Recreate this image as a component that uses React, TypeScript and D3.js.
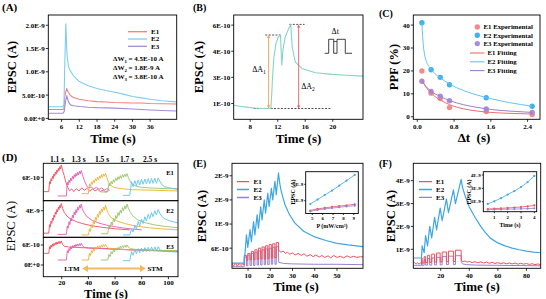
import { useEffect, useRef } from 'react'
import * as d3 from 'd3'

type Pt = [number, number]

const SERIF = '"Liberation Serif", "Times New Roman", serif'

// ---------------- (A) single pulse, EPSC in 1e-10 A ----------------
const aNames = ['E1', 'E2', 'E3']
const aColors = ['#f57f7f', '#7dcdf2', '#a58bd8']
const aE1: Pt[] = [[1.5, 1.9], [6.4, 1.9], [6.8, 2.1], [7.1, 4.8], [7.7, 6.4], [8.2, 5.7], [9, 4.9], [10, 4.5], [12, 4.1], [15, 3.8], [18, 3.6], [21, 3.5], [24, 3.4], [27, 3.35], [30, 3.3], [33, 3.3], [36, 3.2], [40, 3.15], [45, 3.1]]
const aE2: Pt[] = [[1.5, 2.5], [6.4, 2.5], [6.8, 2.9], [7.1, 12], [7.45, 20.3], [7.8, 14], [8.3, 11.2], [9, 10.2], [10, 9.2], [12, 7.9], [15, 7.0], [18, 6.4], [21, 6.0], [24, 5.6], [27, 5.2], [30, 4.7], [33, 4.4], [36, 4.1], [40, 3.8], [45, 3.55]]
const aE3: Pt[] = [[1.5, 1.1], [6.5, 1.1], [6.9, 1.5], [7.3, 3.5], [7.8, 4.9], [8.3, 3.6], [9, 2.9], [10, 2.7], [12, 2.55], [15, 2.4], [18, 2.3], [24, 2.2], [30, 2.0], [36, 1.8], [40, 1.7], [45, 1.57]]
const aXTicks = [6, 12, 18, 24, 30, 36]
const aYTicks = [0, 5, 10, 15, 20]
const aYLabels = ['0.0E+0', '5.0E-10', '1.0E-9', '1.5E-9', '2.0E-9']
const aDeltaW = [['1', '4.5E-10'], ['2', '1.8E-9'], ['3', '3.8E-10']]

// ---------------- (B) paired pulse, EPSC in 1e-10 A ----------------
const bCurve: Pt[] = [[5.6, 1.4], [6.5, 1.34], [7.5, 1.29], [8.5, 1.24], [9.7, 1.21], [11.0, 1.21], [11.15, 2.2], [11.25, 3.03], [11.45, 4.18], [11.75, 4.95], [12.1, 5.33], [12.4, 5.43], [12.5, 4.5], [12.6, 3.7], [12.75, 4.56], [13.1, 5.33], [13.6, 5.81], [13.9, 6.04], [14.1, 4.75], [14.55, 3.89], [15.5, 3.51], [17.5, 3.26], [19.9, 3.17], [22, 3.12], [24.5, 3.07]]
const bXTicks = [8, 12, 16, 20]
const bYTicks = [1.5, 3, 4.5, 6]
const bYLabels = ['1E-10', '3E-10', '4E-10', '6E-10']
const bLevels = [1.21, 5.43, 6.04] // base, peak 1, peak 2

// ---------------- (C) PPF ----------------
const cNames = ['E1', 'E2', 'E3']
const cDt = [0.1, 0.3, 0.5, 0.7, 1.5, 2.5]
const cE1 = [20, 10.3, 8, 4, 2.3, 1]
const cE2 = [41, 20.5, 17.2, 14, 8.3, 4.6]
const cE3 = [15.5, 11, 9, 7, 3.4, 1.9]
const cFitE1: Pt[] = [[0.1, 16.5], [0.15, 14.2], [0.2, 12.6], [0.3, 10.3], [0.4, 8.6], [0.5, 7.3], [0.7, 5.3], [1.0, 3.5], [1.3, 2.5], [1.6, 1.9], [2.0, 1.5], [2.5, 1.2]]
const cFitE2: Pt[] = [[0.1, 41], [0.11, 37], [0.13, 31.5], [0.16, 27], [0.2, 24], [0.25, 22], [0.3, 20.5], [0.4, 18.5], [0.5, 17], [0.7, 14.3], [1.0, 11.5], [1.3, 9.5], [1.6, 7.9], [2.0, 6.2], [2.5, 4.6]]
const cFitE3: Pt[] = [[0.1, 15.6], [0.2, 13], [0.3, 11.1], [0.4, 9.9], [0.5, 8.9], [0.7, 7.1], [1.0, 5.3], [1.3, 4.1], [1.6, 3.2], [2.0, 2.5], [2.5, 1.9]]
const cMarkColors = ['#f28b8b', '#3fb2ee', '#a98ed8']
const cFitColors = ['#f36d6d', '#63c4f0', '#9d7dd2']
const cXTicks = [0, 0.8, 1.6, 2.4]
const cXLabels = ['0.0', '0.8', '1.6', '2.4']
const cYTicks = [0, 10, 20, 30, 40]

// ---------------- (D) pulse trains at 5 intervals ----------------
const dIntervals = [1.1, 1.3, 1.5, 1.7, 2.5]
const dLabels = ['1.1 s', '1.3 s', '1.5 s', '1.7 s', '2.5 s']
const dStarts = [10.3, 23.5, 40, 54.5, 71]
const dPreStart = [6.2, 17, 35, 49.5, 66]
const dColors = ['#ef4d5d', '#e35bb3', '#efb02e', '#95c46a', '#5ec3f2']
// E1, 1e-10 A
const dE1Base = [1.7, 0.4, 1.1, 1.6, 0.6]
const dE1Peaks = [
  [4.7, 5.6, 6.3, 7.0, 7.6, 8.2, 8.7, 9.2, 9.7],
  [4.5, 5.2, 5.8, 6.3, 6.8, 7.2, 7.5, 7.8, 8.0],
  [4.0, 4.6, 5.1, 5.6, 6.0, 6.4, 6.8, 7.0, 7.2],
  [4.2, 4.8, 5.3, 5.8, 6.2, 6.5, 6.8, 7.0, 7.1],
  [4.7, 5.0, 5.2, 5.4, 5.5, 5.6, 5.7, 5.7, 5.8],
]
const dE1Troughs = [
  [4.0, 4.9, 5.6, 6.3, 6.9, 7.5, 8.0, 8.5],
  [3.7, 4.4, 5.0, 5.5, 6.0, 6.4, 6.7, 7.0],
  [3.3, 3.9, 4.4, 4.9, 5.3, 5.7, 6.0, 6.3],
  [3.4, 4.0, 4.5, 5.0, 5.4, 5.7, 6.0, 6.2],
  [3.2, 3.5, 3.7, 3.9, 4.0, 4.1, 4.2, 4.2],
]
const dE1Tails: Pt[][] = [
  [[20.6, 8.2], [21.8, 6.6], [23, 4.6], [24.5, 3.0], [26, 2.0], [27.5, 2.5], [29, 1.7], [31, 2.6], [33, 1.9], [35, 2.8], [37, 2.1], [39, 2.7], [41, 1.8], [43, 2.5], [45, 1.9], [47, 2.4], [49, 1.7], [51, 2.2], [53, 1.6], [55, 2.0]],
  [[35.5, 6.8], [37, 5.0], [38.5, 3.6], [40, 2.8], [42, 3.1], [44, 2.5], [46, 3.0], [48, 2.4], [50, 2.8], [52, 2.2], [54, 2.6], [56, 2.1]],
  [[53.8, 6.0], [55, 4.6], [57, 3.5], [59, 3.0], [63, 2.7], [67, 2.5], [73, 2.3], [80, 2.2], [90, 2.1], [100, 2.0], [107, 1.9]],
  [[70, 5.9], [71.5, 4.6], [73.5, 3.8], [76, 3.3], [80, 3.0], [86, 2.8], [92, 2.7], [100, 2.6], [107, 2.5]],
  [[93.5, 4.8], [95, 3.8], [97, 3.2], [100, 2.9], [104, 2.6], [107, 2.5]],
]
// E2, 1e-9 A
const dE2Base = [0.3, 0.1, 0.0, 0.2, 0.0]
const dE2Peaks = [
  [1.7, 2.3, 2.8, 3.3, 3.8, 4.2, 4.6, 4.9, 5.2],
  [1.5, 2.2, 2.8, 3.3, 3.8, 4.2, 4.6, 4.9, 5.1],
  [1.0, 1.7, 2.3, 2.9, 3.4, 3.9, 4.3, 4.6, 4.9],
  [1.5, 2.1, 2.7, 3.2, 3.7, 4.1, 4.5, 4.8, 5.1],
  [1.0, 1.6, 2.2, 2.6, 3.0, 3.4, 3.7, 4.0, 4.2],
]
const dE2Troughs = [
  [1.3, 1.9, 2.4, 2.9, 3.4, 3.8, 4.2, 4.5],
  [1.1, 1.7, 2.3, 2.8, 3.3, 3.7, 4.1, 4.4],
  [0.6, 1.2, 1.8, 2.4, 2.9, 3.4, 3.8, 4.1],
  [1.0, 1.6, 2.2, 2.7, 3.2, 3.6, 4.0, 4.3],
  [0.5, 1.0, 1.5, 1.9, 2.3, 2.7, 3.0, 3.3],
]
const dE2Tails: Pt[][] = [
  [[20.6, 4.4], [22, 3.7], [24, 3.1], [27, 2.6], [31, 2.2], [36, 1.85], [43, 1.5], [51, 1.25], [61, 1.0], [71, 0.85]],
  [[35.5, 4.3], [37, 3.6], [39, 3.0], [43, 2.4], [48, 1.95], [55, 1.55], [63, 1.25], [72, 1.0], [80, 0.85]],
  [[53.8, 4.2], [55, 3.5], [57, 2.9], [61, 2.35], [67, 1.9], [75, 1.5], [85, 1.2], [96, 1.0], [107, 0.85]],
  [[70, 4.4], [71.5, 3.7], [73.5, 3.1], [77, 2.5], [83, 2.0], [90, 1.65], [98, 1.4], [107, 1.2]],
  [[93.5, 3.6], [95, 3.1], [97, 2.7], [100, 2.4], [104, 2.15], [107, 2.0]],
]
// E3, 1e-10 A
const dE3Base = [3.5, 1.5, 1.5, 1.5, 1.3]
const dE3Peaks = [
  [5.5, 6.0, 6.3, 6.5, 6.7, 6.9, 7.0, 7.1, 7.2],
  [4.3, 5.0, 5.5, 5.8, 6.0, 6.2, 6.3, 6.4, 6.5],
  [3.5, 4.3, 4.9, 5.3, 5.6, 5.8, 6.0, 6.1, 6.2],
  [3.2, 4.0, 4.6, 5.0, 5.3, 5.6, 5.8, 5.9, 6.0],
  [4.0, 4.6, 4.9, 5.1, 5.2, 5.3, 5.4, 5.4, 5.5],
]
const dE3Troughs = [
  [4.8, 5.3, 5.6, 5.9, 6.1, 6.3, 6.4, 6.5],
  [3.6, 4.3, 4.8, 5.1, 5.4, 5.6, 5.7, 5.8],
  [2.8, 3.6, 4.2, 4.7, 5.0, 5.2, 5.4, 5.5],
  [2.5, 3.3, 3.9, 4.4, 4.7, 5.0, 5.2, 5.3],
  [2.9, 3.4, 3.7, 3.9, 4.0, 4.1, 4.2, 4.2],
]
const dE3Tails: Pt[][] = [
  [[20.6, 6.2], [22, 5.6], [25, 5.4], [30, 5.3], [40, 5.1], [50, 5.0], [60, 4.8], [70, 4.6], [80, 4.5], [90, 4.3], [100, 4.2], [107, 4.1]],
  [[35.5, 5.8], [37, 5.3], [40, 5.1], [50, 4.9], [60, 4.7], [80, 4.4], [107, 4.1]],
  [[53.8, 5.5], [55, 5.0], [59, 4.8], [70, 4.6], [85, 4.4], [107, 4.2]],
  [[70, 5.3], [71.5, 4.9], [75, 4.7], [85, 4.5], [107, 4.2]],
  [[93.5, 4.6], [95, 4.2], [100, 4.0], [107, 3.9]],
]
const dXTicks = [20, 40, 60, 80, 100]

// ---------------- (E) train, EPSC in 1e-9 A ----------------
const efNames = ['E1', 'E2', 'E3']
const efColors = ['#ef525c', '#3ea6e4', '#9b80d2']
const eStarts = [8.3, 9.9, 11.5, 13.1, 14.7, 16.3, 17.9, 19.5, 21.1, 22.7]
const eOn = 1.0
const eE2Pre: Pt[] = [[2.8, 0.23], [8.3, 0.23]]
const eE2Peaks = [0.93, 1.06, 1.26, 1.43, 1.63, 1.8, 1.97, 2.09, 2.26, 2.47]
const eE2Troughs = [0.62, 0.76, 0.93, 1.1, 1.3, 1.47, 1.63, 1.8, 1.93]
const eE2Tail: Pt[] = [[24.3, 2.2], [25, 2.0], [26.5, 1.7], [28.5, 1.45], [31, 1.23], [35, 1.02], [40, 0.88], [45, 0.79], [50, 0.72], [55, 0.68], [61.7, 0.64]]
const eE1Pre: Pt[] = [[2.8, 0.2], [3.6, 0.16], [4.4, 0.23], [5.2, 0.15], [6, 0.22], [6.8, 0.17], [7.6, 0.21], [8.3, 0.18]]
const eE1Tops = [0.42, 0.47, 0.52, 0.56, 0.6, 0.63, 0.66, 0.69, 0.71, 0.74]
const eE1Bottoms = [0.3, 0.31, 0.31, 0.32, 0.33, 0.33, 0.34, 0.35, 0.36]
const eE1Tail: Pt[] = [[23.8, 0.55], [24.8, 0.5], [25.8, 0.53], [26.8, 0.47], [27.8, 0.5], [28.8, 0.45], [30, 0.48], [31.2, 0.43], [32.5, 0.47], [34, 0.42], [35.2, 0.46], [36.5, 0.4], [38, 0.44], [39.2, 0.39], [40.5, 0.43], [42, 0.38], [43.2, 0.42], [44.5, 0.37], [46, 0.41], [47.2, 0.36], [48.5, 0.42], [50, 0.37], [51.5, 0.4], [53, 0.36], [54.5, 0.41], [56, 0.37], [57.5, 0.4], [59, 0.37], [60.5, 0.39], [61.7, 0.38]]
const eE3Pre: Pt[] = [[2.8, 0.14], [8.3, 0.14]]
const eE3Tops = [0.38, 0.43, 0.47, 0.5, 0.53, 0.56, 0.58, 0.6, 0.62, 0.64]
const eE3Bottoms = [0.16, 0.17, 0.17, 0.18, 0.18, 0.19, 0.19, 0.2, 0.2]
const eE3Tail: Pt[] = [[23.8, 0.25], [26, 0.22], [30, 0.21], [40, 0.2], [50, 0.2], [61.7, 0.19]]
const eXTicks = [10, 20, 30, 40, 50]
const eYTicks = [0.6, 1.2, 1.8, 2.4]
const eYLabels = ['6E-10', '1E-9', '2E-9', '2E-9']
// inset: EPSC vs light power density
const eInP = [4.8, 5.5, 6.2, 6.9, 7.6, 8.3, 9.1]
const eInE1 = [0.4, 0.5, 0.56, 0.62, 0.67, 0.72, 0.78]
const eInE2 = [0.8, 1.07, 1.35, 1.62, 1.92, 2.22, 2.58]
const eInE3 = [0.35, 0.44, 0.5, 0.55, 0.6, 0.65, 0.7]
const eInXTicks = [5, 6, 7, 8, 9]
const eInYTicks = [1, 2]
const eInYLabels = ['1E-9', '2E-9']

// ---------------- (F) duration train, EPSC in 1e-9 A ----------------
const fStarts = [6.5, 8.4, 10.8, 13.7, 17.1, 21.0, 25.4, 30.3]
const fDurations = [0.5, 1, 1.5, 2, 2.5, 3, 3.5, 4]
const fE2Pre: Pt[] = [[0.8, 0.62], [6.5, 0.62]]
const fE2Peaks = [1.15, 1.6, 2.0, 2.4, 2.8, 3.2, 3.6, 4.06]
const fE2Troughs = [0.85, 1.15, 1.5, 1.85, 2.25, 2.6, 3.0]
const fE2Tail: Pt[] = [[35.3, 3.7], [37, 3.35], [40, 2.85], [44, 2.4], [48, 2.0], [51, 1.75], [54.5, 1.5], [60, 1.28], [65, 1.15], [70, 1.05], [75, 0.98], [80, 0.92], [85, 0.88], [90, 0.85]]
const fE1Pre: Pt[] = [[0.8, 0.38], [1.8, 0.42], [2.8, 0.36], [3.8, 0.41], [4.8, 0.35], [5.8, 0.4], [6.5, 0.38]]
const fE1Tops = [0.62, 0.68, 0.74, 0.79, 0.84, 0.88, 0.92, 0.96]
const fE1Bottoms = [0.4, 0.42, 0.43, 0.44, 0.45, 0.46, 0.47]
const fE1Tail: Pt[] = [[34.4, 0.52], [35.5, 0.46], [37, 0.49], [38.5, 0.44], [40, 0.47], [42, 0.42], [44, 0.46], [46, 0.41], [48, 0.45], [50, 0.4], [52, 0.44], [54, 0.39], [56, 0.43], [58, 0.38], [60, 0.42], [62, 0.37], [64, 0.41], [66, 0.37], [68, 0.4], [70, 0.36], [72, 0.4], [74, 0.35], [76, 0.39], [78, 0.35], [80, 0.38], [82, 0.34], [84, 0.37], [86, 0.33], [88, 0.36], [90, 0.33]]
const fE3Pre: Pt[] = [[0.8, 0.3], [6.5, 0.3]]
const fE3Tops = [0.5, 0.55, 0.59, 0.62, 0.65, 0.68, 0.7, 0.72]
const fE3Bottoms = [0.3, 0.31, 0.31, 0.32, 0.32, 0.33, 0.33]
const fE3Tail: Pt[] = [[34.4, 0.42], [35.5, 0.36], [38, 0.33], [45, 0.31], [60, 0.3], [90, 0.28]]
const fXTicks = [20, 40, 60, 80]
const fYTicks = [1, 2, 3, 4]
const fYLabels = ['1E-9', '2E-9', '3E-9', '4E-9']
// inset: EPSC vs pulse duration
const fInT = [0.5, 1, 1.5, 2, 2.5, 3, 3.5, 4]
const fInE1 = [0.18, 0.22, 0.26, 0.3, 0.35, 0.41, 0.48, 0.58]
const fInE2 = [0.75, 1.05, 1.4, 1.8, 2.2, 2.65, 3.2, 3.9]
const fInE3 = [0.1, 0.12, 0.14, 0.16, 0.18, 0.2, 0.23, 0.26]
const fInXTicks = [1, 2, 3, 4]
const fInYTicks = [1, 2.5, 4]
const fInYLabels = ['1E-9', '3E-9', '4E-9']

type Box = { x: number; y: number; w: number; h: number }
let clipCount = 0

function clipped(svg: any, b: Box) {
  const id = 'clip' + clipCount++
  svg.append('clipPath').attr('id', id).append('rect').attr('x', b.x).attr('y', b.y).attr('width', b.w).attr('height', b.h)
  return svg.append('g').attr('clip-path', `url(#${id})`)
}

function frame(g: any, b: Box, fill = 'none') {
  g.append('rect').attr('x', b.x).attr('y', b.y).attr('width', b.w).attr('height', b.h)
    .attr('fill', fill).attr('stroke', '#000').attr('stroke-width', 0.9)
}

function xAxis(g: any, b: Box, xs: any, ticks: number[], labels: string[], fs = 7, tick = 2.5, gap = 9.3) {
  ticks.forEach((v, i) => {
    const x = xs(v)
    g.append('line').attr('x1', x).attr('x2', x).attr('y1', b.y + b.h).attr('y2', b.y + b.h + tick).attr('stroke', '#000').attr('stroke-width', 0.8)
    g.append('text').attr('x', x).attr('y', b.y + b.h + gap).attr('text-anchor', 'middle')
      .attr('font-size', fs).attr('font-weight', 'bold').text(labels[i])
  })
}

function yAxis(g: any, b: Box, ys: any, ticks: number[], labels: string[], fs = 7, tick = 2.5) {
  ticks.forEach((v, i) => {
    const y = ys(v)
    g.append('line').attr('x1', b.x - tick).attr('x2', b.x).attr('y1', y).attr('y2', y).attr('stroke', '#000').attr('stroke-width', 0.8)
    g.append('text').attr('x', b.x - tick - 1).attr('y', y).attr('dy', '0.35em').attr('text-anchor', 'end')
      .attr('font-size', fs).attr('font-weight', 'bold').text(labels[i])
  })
}

function text(g: any, x: number, y: number, s: string, fs: number, opts: any = {}) {
  const t = g.append('text').attr('x', x).attr('y', y).attr('font-size', fs)
    .attr('font-weight', opts.weight || 'bold').attr('text-anchor', opts.anchor || 'middle').text(s)
  if (opts.rotate) t.attr('transform', `rotate(-90 ${x} ${y})`)
  if (opts.dy) t.attr('dy', opts.dy)
  return t
}

function trace(g: any, pts: Pt[], xs: any, ys: any, color: string, w = 1, curve: any = d3.curveLinear) {
  const line = d3.line<Pt>().x(d => xs(d[0])).y(d => ys(d[1])).curve(curve)
  g.append('path').datum(pts).attr('d', line).attr('fill', 'none').attr('stroke', color)
    .attr('stroke-width', w).attr('stroke-linejoin', 'round')
}

// rising teeth: pulse i rises to peaks[i], then decays to troughs[i] before pulse i+1
function sawtooth(pre: Pt[], starts: number[], rises: number[], peaks: number[], troughs: number[], tail: Pt[]): Pt[] {
  const pts: Pt[] = [...pre]
  starts.forEach((s, i) => {
    pts.push([s + rises[i], peaks[i]])
    if (i < troughs.length) pts.push([starts[i + 1], troughs[i]])
  })
  return pts.concat(tail)
}

function square(pre: Pt[], starts: number[], ons: number[], tops: number[], bottoms: number[], tail: Pt[]): Pt[] {
  const pts: Pt[] = [...pre]
  starts.forEach((s, i) => {
    const prev = i === 0 ? pre[pre.length - 1][1] : bottoms[i - 1]
    pts.push([s, prev], [s, tops[i]], [s + ons[i], tops[i]])
    if (i < bottoms.length) pts.push([s + ons[i], bottoms[i]])
  })
  return pts.concat(tail)
}

function subLabel(g: any, x: number, y: number, main: string, sub: string, rest: string, fs: number, weight = 'bold', anchor = 'start') {
  const t = g.append('text').attr('x', x).attr('y', y).attr('font-size', fs).attr('font-weight', weight).attr('text-anchor', anchor)
  t.append('tspan').text(main)
  t.append('tspan').attr('font-size', fs * 0.7).attr('dy', fs * 0.25).text(sub)
  if (rest) t.append('tspan').attr('dy', -fs * 0.25).text(rest)
}

function legendLines(g: any, x0: number, x1: number, tx: number, ys: number[], names: string[], colors: string[], fs = 7, w = 1.3) {
  names.forEach((n, i) => {
    g.append('line').attr('x1', x0).attr('x2', x1).attr('y1', ys[i]).attr('y2', ys[i]).attr('stroke', colors[i]).attr('stroke-width', w)
    text(g, tx, ys[i], n, fs, { anchor: 'start', dy: '0.35em' })
  })
}

function arrowV(g: any, x: number, y0: number, y1: number, color: string) {
  g.append('line').attr('x1', x).attr('x2', x).attr('y1', y0 - 2.5).attr('y2', y1 + 2.5).attr('stroke', color).attr('stroke-width', 0.9)
  g.append('path').attr('d', `M${x - 1.6},${y0 - 3} L${x},${y0} L${x + 1.6},${y0 - 3} Z`).attr('fill', color)
  g.append('path').attr('d', `M${x - 1.6},${y1 + 3} L${x},${y1} L${x + 1.6},${y1 + 3} Z`).attr('fill', color)
}

export default function App() {
  const ref = useRef<SVGSVGElement>(null)

  useEffect(() => {
    const svg = d3.select(ref.current)
    svg.selectAll('*').remove()
    const root = svg.append('g')

    // ---------------- (A) ----------------
    const aBox = { x: 48.3, y: 15, w: 128.4, h: 104.3 }
    const ax = d3.scaleLinear().domain([1.5, 45]).range([aBox.x, aBox.x + aBox.w])
    const ay = d3.scaleLinear().domain([-0.2, 22.2]).range([aBox.y + aBox.h, aBox.y])
    const aG = clipped(root, aBox)
    ;[aE1, aE2, aE3].forEach((s, i) => trace(aG, s, ax, ay, aColors[i], 1.1))
    frame(root, aBox)
    xAxis(root, aBox, ax, aXTicks, aXTicks.map(String))
    yAxis(root, aBox, ay, aYTicks, aYLabels)
    legendLines(root, 128, 147, 151, [31.7, 39, 46.3], aNames, aColors)
    aDeltaW.forEach((d, i) => subLabel(root, 113, 61 + i * 9, 'ΔW', d[0], ` = ${d[1]} A`, 7))
    text(root, 113, 142.5, 'Time (s)', 13)
    text(root, 16, 67, 'EPSC (A)', 12.5, { rotate: true })
    text(root, 2, 11, '(A)', 11, { anchor: 'start' })

    // ---------------- (B) ----------------
    const bBox = { x: 233.7, y: 15, w: 129.3, h: 104.3 }
    const bx = d3.scaleLinear().domain([5.6, 24.4]).range([bBox.x, bBox.x + bBox.w])
    const by = d3.scaleLinear().domain([0.59, 6.58]).range([bBox.y + bBox.h, bBox.y])
    const bG = clipped(root, bBox)
    const dash = (t0: number, t1: number, v: number) =>
      bG.append('line').attr('x1', bx(t0)).attr('x2', bx(t1)).attr('y1', by(v)).attr('y2', by(v))
        .attr('stroke', '#222').attr('stroke-width', 0.8).attr('stroke-dasharray', '2,1.4')
    dash(8.5, 19.65, bLevels[0])
    dash(10.2, 12.4, bLevels[1])
    dash(13.7, 15.9, bLevels[2])
    trace(bG, bCurve, bx, by, '#86d4c6', 1.1)
    arrowV(bG, bx(10.67), by(bLevels[0]), by(bLevels[1]), '#f5a04a')
    arrowV(bG, bx(15.04), by(bLevels[0]), by(bLevels[2]), '#f25a6a')
    subLabel(root, 259, 72, 'ΔA', '1', '', 8, 'normal', 'middle')
    subLabel(root, 308, 89, 'ΔA', '2', '', 8, 'normal', 'middle')
    root.append('path').attr('d', 'M324.7,53.3 H328.7 V39.3 H333.7 V53.3 H337 V39.3 H345.3 V53.3 H352')
      .attr('fill', 'none').attr('stroke', '#111').attr('stroke-width', 0.8)
    root.append('line').attr('x1', 333.9).attr('x2', 336.8).attr('y1', 41.5).attr('y2', 41.5).attr('stroke', '#111').attr('stroke-width', 0.7)
    text(root, 335.3, 34, 'Δt', 8, { weight: 'normal' })
    frame(root, bBox)
    xAxis(root, bBox, bx, bXTicks, bXTicks.map(String))
    yAxis(root, bBox, by, bYTicks, bYLabels)
    text(root, 298.5, 142.5, 'Time (s)', 13)
    text(root, 203, 67, 'EPSC (A)', 12.5, { rotate: true })
    text(root, 193, 11, '(B)', 10, { anchor: 'start' })

    // ---------------- (C) ----------------
    const cBox = { x: 413.3, y: 15, w: 126.7, h: 104.3 }
    const cx = d3.scaleLinear().domain([-0.087, 2.67]).range([cBox.x, cBox.x + cBox.w])
    const cy = d3.scaleLinear().domain([-1.1, 44.4]).range([cBox.y + cBox.h, cBox.y])
    const cG = clipped(root, cBox)
    ;[cE1, cE2, cE3].forEach((s, i) => {
      s.forEach((v, j) => cG.append('circle').attr('cx', cx(cDt[j])).attr('cy', cy(v)).attr('r', 2.7).attr('fill', cMarkColors[i]))
    })
    ;[cFitE1, cFitE2, cFitE3].forEach((s, i) => trace(cG, s, cx, cy, cFitColors[i], 1, d3.curveMonotoneX))
    frame(root, cBox)
    xAxis(root, cBox, cx, cXTicks, cXLabels)
    yAxis(root, cBox, cy, cYTicks, cYTicks.map(String))
    cNames.forEach((n, i) => {
      const yy = 27 + i * 8.3
      root.append('circle').attr('cx', 477.3).attr('cy', yy).attr('r', 2.7).attr('fill', cMarkColors[i])
      text(root, 483.5, yy, `${n} Experimental`, 6.8, { anchor: 'start', dy: '0.35em' })
    })
    legendLines(root, 470, 484.5, 487.5, [53, 61.8, 70.6], cNames.map(n => `${n} Fitting`), cFitColors, 6.8, 1.1)
    text(root, 474, 142, 'Δt\u00a0 (s)', 13)
    text(root, 398, 67, 'PPF (%)', 12.5, { rotate: true })
    text(root, 379, 17, '(C)', 10, { anchor: 'start' })

    // ---------------- (D) ----------------
    const dBox = { x: 43.3, y: 163.3, w: 134.7, h: 113.4 }
    const dx = d3.scaleLinear().domain([6.2, 107.2]).range([dBox.x, dBox.x + dBox.w])
    const subs = [
      { b: { x: 43.3, y: 163.3, w: 134.7, h: 37.4 }, dom: [-1.02, 10.2], base: dE1Base, peaks: dE1Peaks, troughs: dE1Troughs, tails: dE1Tails, ticks: [6], labels: ['6E-10'], name: 'E1' },
      { b: { x: 43.3, y: 200.7, w: 134.7, h: 36.6 }, dom: [-0.38, 5.65], base: dE2Base, peaks: dE2Peaks, troughs: dE2Troughs, tails: dE2Tails, ticks: [4], labels: ['4E-9'], name: 'E2' },
      { b: { x: 43.3, y: 237.3, w: 134.7, h: 39.4 }, dom: [-3.5, 8.3], base: dE3Base, peaks: dE3Peaks, troughs: dE3Troughs, tails: dE3Tails, ticks: [6, 0], labels: ['6E-10', '0E+0'], name: 'E3' },
    ]
    subs.forEach(sp => {
      const ys = d3.scaleLinear().domain(sp.dom).range([sp.b.y + sp.b.h, sp.b.y])
      const g = clipped(root, sp.b)
      dStarts.forEach((s0, k) => {
        const T = dIntervals[k]
        const starts = sp.peaks[k].map((_, i) => s0 + i * T)
        const pts = sawtooth([[dPreStart[k], sp.base[k]], [s0, sp.base[k]]], starts, starts.map(() => 0.55 * T), sp.peaks[k], sp.troughs[k], sp.tails[k])
        trace(g, pts, dx, ys, dColors[k], 0.9)
      })
      frame(root, sp.b)
      yAxis(root, sp.b, ys, sp.ticks, sp.labels)
      text(root, 170, sp.b.y + 12, sp.name, 6.5)
    })
    xAxis(root, dBox, dx, dXTicks, dXTicks.map(String), 7, 2.5, 8.6)
    dLabels.forEach((l, i) => text(root, [57, 78.5, 102, 127, 150][i], 161.5, l, 7.5))
    // LTM <-> STM arrow
    root.append('line').attr('x1', 86).attr('x2', 142).attr('y1', 268.5).attr('y2', 268.5).attr('stroke', '#f5b964').attr('stroke-width', 2.2)
    root.append('path').attr('d', 'M82,268.5 L88,265 L88,272 Z').attr('fill', '#f5b964')
    root.append('path').attr('d', 'M146,268.5 L140,265 L140,272 Z').attr('fill', '#f5b964')
    text(root, 72, 271, 'LTM', 7)
    text(root, 155, 271, 'STM', 7)
    text(root, 106, 297.5, 'Time (s)', 12.5)
    text(root, 15, 226, 'EPSC (A)', 12.5, { rotate: true, weight: 'normal' })
    text(root, 2, 161, '(D)', 11, { anchor: 'start' })

    // ---------------- (E) ----------------
    const eBox = { x: 232, y: 163.3, w: 131, h: 105 }
    const ex = d3.scaleLinear().domain([2.8, 61.7]).range([eBox.x, eBox.x + eBox.w])
    const ey = d3.scaleLinear().domain([0.1, 2.71]).range([eBox.y + eBox.h, eBox.y])
    const eG = clipped(root, eBox)
    const eOns = eStarts.map(() => eOn)
    trace(eG, square(eE3Pre, eStarts, eOns, eE3Tops, eE3Bottoms, eE3Tail), ex, ey, efColors[2], 1)
    trace(eG, square(eE1Pre, eStarts, eOns, eE1Tops, eE1Bottoms, eE1Tail), ex, ey, efColors[0], 1)
    trace(eG, sawtooth(eE2Pre, eStarts, eOns, eE2Peaks, eE2Troughs, eE2Tail), ex, ey, efColors[1], 1.2)
    legendLines(eG, 237, 249, 253.5, [181.7, 189.5, 197.5], efNames, efColors)
    // inset
    const eiBox = { x: 305.7, y: 171.7, w: 52.6, h: 41.8 }
    frame(root, eiBox, '#fff')
    const eix = d3.scaleLinear().domain([4.36, 9.44]).range([eiBox.x, eiBox.x + eiBox.w])
    const eiy = d3.scaleLinear().domain([0.22, 2.77]).range([eiBox.y + eiBox.h, eiBox.y])
    ;[eInE1, eInE3, eInE2].forEach((s, k) => {
      const c = [efColors[0], efColors[2], efColors[1]][k]
      const pts: Pt[] = s.map((v, i) => [eInP[i], v])
      trace(root, pts, eix, eiy, c, 0.8)
      pts.forEach(p => root.append('circle').attr('cx', eix(p[0])).attr('cy', eiy(p[1])).attr('r', 1.1).attr('fill', c))
    })
    xAxis(root, eiBox, eix, eInXTicks, eInXTicks.map(String), 5, 1.5, 6.8)
    yAxis(root, eiBox, eiy, eInYTicks, eInYLabels, 5, 1.5)
    root.append('text').attr('x', 332).attr('y', 228).attr('font-size', 6).attr('font-weight', 'bold').attr('text-anchor', 'middle').text('P (mW/cm²)')
    text(root, 295, 192, 'EPSC (A)', 6, { rotate: true })
    frame(root, eBox)
    xAxis(root, eBox, ex, eXTicks, eXTicks.map(String))
    yAxis(root, eBox, ey, eYTicks, eYLabels)
    text(root, 296, 291, 'Time (s)', 13)
    text(root, 206, 216, 'EPSC (A)', 12.5, { rotate: true })
    text(root, 193, 167, '(E)', 10, { anchor: 'start' })

    // ---------------- (F) ----------------
    const fBox = { x: 413.3, y: 163.3, w: 127.4, h: 105 }
    const fx = d3.scaleLinear().domain([0.8, 90]).range([fBox.x, fBox.x + fBox.w])
    const fy = d3.scaleLinear().domain([0.17, 4.76]).range([fBox.y + fBox.h, fBox.y])
    const fG = clipped(root, fBox)
    trace(fG, square(fE3Pre, fStarts, fDurations, fE3Tops, fE3Bottoms, fE3Tail), fx, fy, efColors[2], 1)
    trace(fG, square(fE1Pre, fStarts, fDurations, fE1Tops, fE1Bottoms, fE1Tail), fx, fy, efColors[0], 1)
    trace(fG, sawtooth(fE2Pre, fStarts, fDurations, fE2Peaks, fE2Troughs, fE2Tail), fx, fy, efColors[1], 1.2)
    legendLines(fG, 419, 432, 436, [181.7, 189.5, 197.3], efNames, efColors)
    const fiBox = { x: 483.3, y: 171.7, w: 53.4, h: 40 }
    frame(root, fiBox, '#fff')
    const fix = d3.scaleLinear().domain([0.17, 4.18]).range([fiBox.x, fiBox.x + fiBox.w])
    const fiy = d3.scaleLinear().domain([-0.12, 4.37]).range([fiBox.y + fiBox.h, fiBox.y])
    ;[fInE1, fInE3, fInE2].forEach((s, k) => {
      const c = [efColors[0], efColors[2], efColors[1]][k]
      const pts: Pt[] = s.map((v, i) => [fInT[i], v])
      trace(root, pts, fix, fiy, c, 0.8)
      pts.forEach(p => root.append('circle').attr('cx', fix(p[0])).attr('cy', fiy(p[1])).attr('r', 1.1).attr('fill', c))
    })
    xAxis(root, fiBox, fix, fInXTicks, fInXTicks.map(String), 5, 1.5, 6.8)
    yAxis(root, fiBox, fiy, fInYTicks, fInYLabels, 5, 1.5)
    text(root, 510, 226.5, 'Time (s)', 6)
    text(root, 471, 192, 'EPSC (A)', 6, { rotate: true })
    frame(root, fBox)
    xAxis(root, fBox, fx, fXTicks, fXTicks.map(String))
    yAxis(root, fBox, fy, fYTicks, fYLabels)
    text(root, 477, 291, 'Time (s)', 13)
    text(root, 395, 216, 'EPSC (A)', 12.5, { rotate: true })
    text(root, 379, 167, '(F)', 10, { anchor: 'start' })
  }, [])

  return (
    <svg ref={ref} width={546} height={299} fontFamily={SERIF}
      style={{ position: 'absolute', left: 0, top: 0, background: '#fff' }} />
  )
}
